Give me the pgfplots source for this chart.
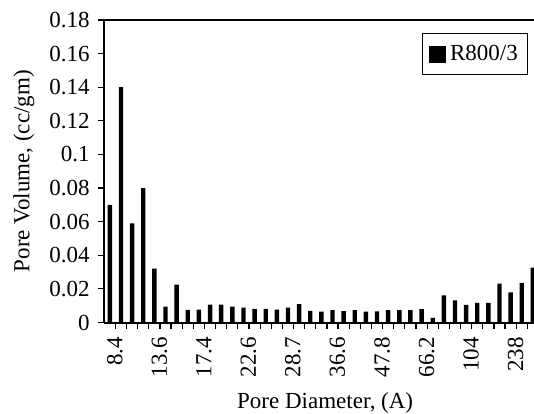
\documentclass[border=0pt]{standalone}
\usepackage{fontspec}
\setmainfont{Liberation Serif}
\usepackage{pgfplots}
\pgfplotsset{compat=1.18}
\begin{document}%
\fontsize{11.5bp}{13.8bp}\selectfont%
\begin{tikzpicture}[font=\fontsize{11.5bp}{13.8bp}\selectfont]
\begin{axis}[
  at={(0,0)}, anchor=south west,
  scale only axis,
  width=214.85bp, height=151.25bp,
  xmin=0.5, xmax=39.1,
  ymin=0, ymax=0.18,
  axis x line*=box,
  axis y line*=left,
  axis line style={line width=1bp, -},
  ytick={0,0.02,0.04,0.06,0.08,0.1,0.12,0.14,0.16,0.18},
  scaled y ticks=false,
  yticklabel style={/pgf/number format/fixed, /pgf/number format/precision=2, /pgf/number format/assume math mode=true},
  ytick pos=left,
  xtick pos=lower,
  tick align=outside,
  xtick={1,5,...,37},
  xticklabels={8.4,13.6,17.4,22.6,28.7,36.6,47.8,66.2,104,238},
  minor xtick={1.5,2.5,...,38.5},
  major tick length=3.3bp,
  minor tick length=3.3bp,
  major x tick style={draw=none},
  every tick/.style={line width=0.6bp, black},
  minor x tick style={line width=0.6bp, black},
  xticklabel style={rotate=90, anchor=east, yshift=-2.5bp},
  ylabel={Pore Volume, (cc/gm)},
  ylabel style={at={(axis description cs:-0.187,0.5)}, anchor=center},
  xlabel={Pore Diameter, (A)},
  xlabel style={at={(axis description cs:0.514,0)}, anchor=base, yshift=-42.75bp},
  legend style={at={(0.9867,0.956)}, anchor=north east, draw=black, line width=0.5bp, inner xsep=3bp, inner ysep=3.5bp, legend cell align=left},
  legend image code/.code={\fill[black] (0bp,-4.3bp) rectangle (8.7bp,4.3bp);},
]
\addplot[ybar, bar width=2.2bp, bar shift=0pt, fill=black, draw=none] coordinates {
(1,0.070) (2,0.140) (3,0.059) (4,0.080) (5,0.032) (6,0.0095) (7,0.0226)
(8,0.0075) (9,0.0077) (10,0.0107) (11,0.0107) (12,0.0095) (13,0.0089)
(14,0.0081) (15,0.0081) (16,0.0076) (17,0.0089) (18,0.0109) (19,0.0069)
(20,0.0064) (21,0.0073) (22,0.0067) (23,0.0073) (24,0.0065) (25,0.0066)
(26,0.0073) (27,0.0073) (28,0.0073) (29,0.0079) (30,0.0028) (31,0.0161)
(32,0.0131) (33,0.0105) (34,0.0117) (35,0.0117) (36,0.0232) (37,0.0179)
(38,0.0236) (39,0.0327)
};
\addlegendentry{R800/3}
\end{axis}
\pgfresetboundingbox
\path[use as bounding box] (-52.15bp,-45.75bp) rectangle (214.85bp,161.25bp);
\end{tikzpicture}%
\end{document}
